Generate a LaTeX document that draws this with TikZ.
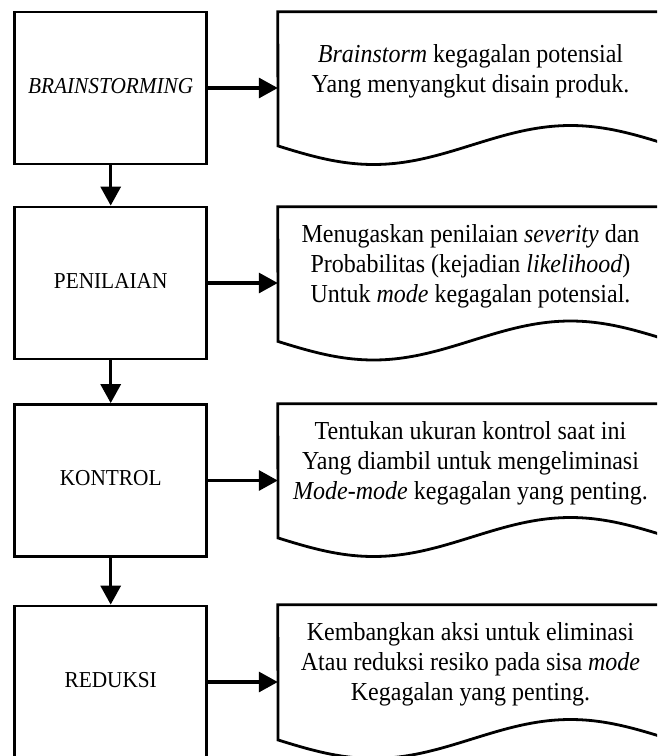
\documentclass[tikz,border=0pt]{standalone}
\usepackage{fontspec}
\usepackage{graphicx}
\setmainfont{Liberation Serif}
\usetikzlibrary{arrows.meta}
% text set slightly taller than wide
\newcommand\tallbox[2]{\scalebox{1}[#1]{\begin{tabular}{@{}c@{}}#2\end{tabular}}}
\begin{document}
\begin{tikzpicture}[x=1pt,y=-1pt,
  stagebox/.style={draw, line width=2.8pt, minimum width=192pt, minimum height=152pt,
    inner sep=0pt, font=\fontsize{21.3}{24}\selectfont},
  docframe/.style={minimum width=386pt, minimum height=133pt, inner sep=0pt},
  docline/.style={line width=2.8pt},
  doctext/.style={inner sep=0pt, anchor=north, font=\fontsize{24}{27.8}\selectfont},
  flow/.style={line width=3.2pt, -{Triangle[length=19pt,width=20pt]}}]
\useasboundingbox (0,0) rectangle (657,756);
\clip (0,0) rectangle (657,756);

% process steps on the left
\node[stagebox] (b1) at (110.7,88)  {\tallbox{1.07}{\textit{BRAINSTORMING}}};
\node[stagebox] (b2) at (110.7,283) {\tallbox{1.07}{PENILAIAN}};
\node[stagebox] (b3) at (110.7,480.5) {\tallbox{1.07}{KONTROL}};
\node[stagebox] (b4) at (110.7,682) {\tallbox{1.07}{REDUKSI}};

% document frames (wavy bottom edge)
\node[docframe] (d1) at (471,78.5)  {};
\node[docframe] (d2) at (471,273.5) {};
\node[docframe] (d3) at (471,470.5) {};
\node[docframe] (d4) at (471,671.5) {};

\draw[docline] plot[domain=664:278, samples=90] (\x, {145 + 19.5*sin(0.9137*(\x-275))})
  -- (d1.north west) -- (d1.north east) -- cycle;
\draw[docline] plot[domain=664:278, samples=90] (\x, {340.5 + 19.5*sin(0.9137*(\x-275))})
  -- (d2.north west) -- (d2.north east) -- cycle;
\draw[docline] plot[domain=664:278, samples=90] (\x, {537 + 19.5*sin(0.9137*(\x-275))})
  -- (d3.north west) -- (d3.north east) -- cycle;
\draw[docline] plot[domain=664:278, samples=90] (\x, {739 + 19.5*sin(0.9137*(\x-275))})
  -- (d4.north west) -- (d4.north east) -- cycle;

% document texts
\node[doctext] (t1) at (470.5,41) {\tallbox{1.08}{\textit{Brainstorm} kegagalan potensial\\Yang menyangkut disain produk.}};
\node[doctext] (t2) at (470.5,221) {\tallbox{1.08}{Menugaskan penilaian \textit{severity} dan\\Probabilitas (kejadian \textit{likelihood})\\Untuk \textit{mode} kegagalan potensial.}};
\node[doctext] (t3) at (470.5,418) {\tallbox{1.08}{Tentukan ukuran kontrol saat ini\\Yang diambil untuk mengeliminasi\\\textit{Mode-mode} kegagalan yang penting.}};
\node[doctext] (t4) at (470.5,619) {\tallbox{1.08}{Kembangkan aksi untuk eliminasi\\Atau reduksi resiko pada sisa \textit{mode}\\Kegagalan yang penting.}};

% connectors
\draw[flow] (b1.south) -- (b2.north);
\draw[flow] (b2.south) -- (b3.north);
\draw[flow] (b3.south) -- (b4.north);
\draw[flow] (b1.east) -- (b1.east -| d1.west);
\draw[flow] (b2.east) -- (b2.east -| d2.west);
\draw[flow] (b3.east) -- (b3.east -| d3.west);
\draw[flow] (b4.east) -- (b4.east -| d4.west);
\end{tikzpicture}
\end{document}
